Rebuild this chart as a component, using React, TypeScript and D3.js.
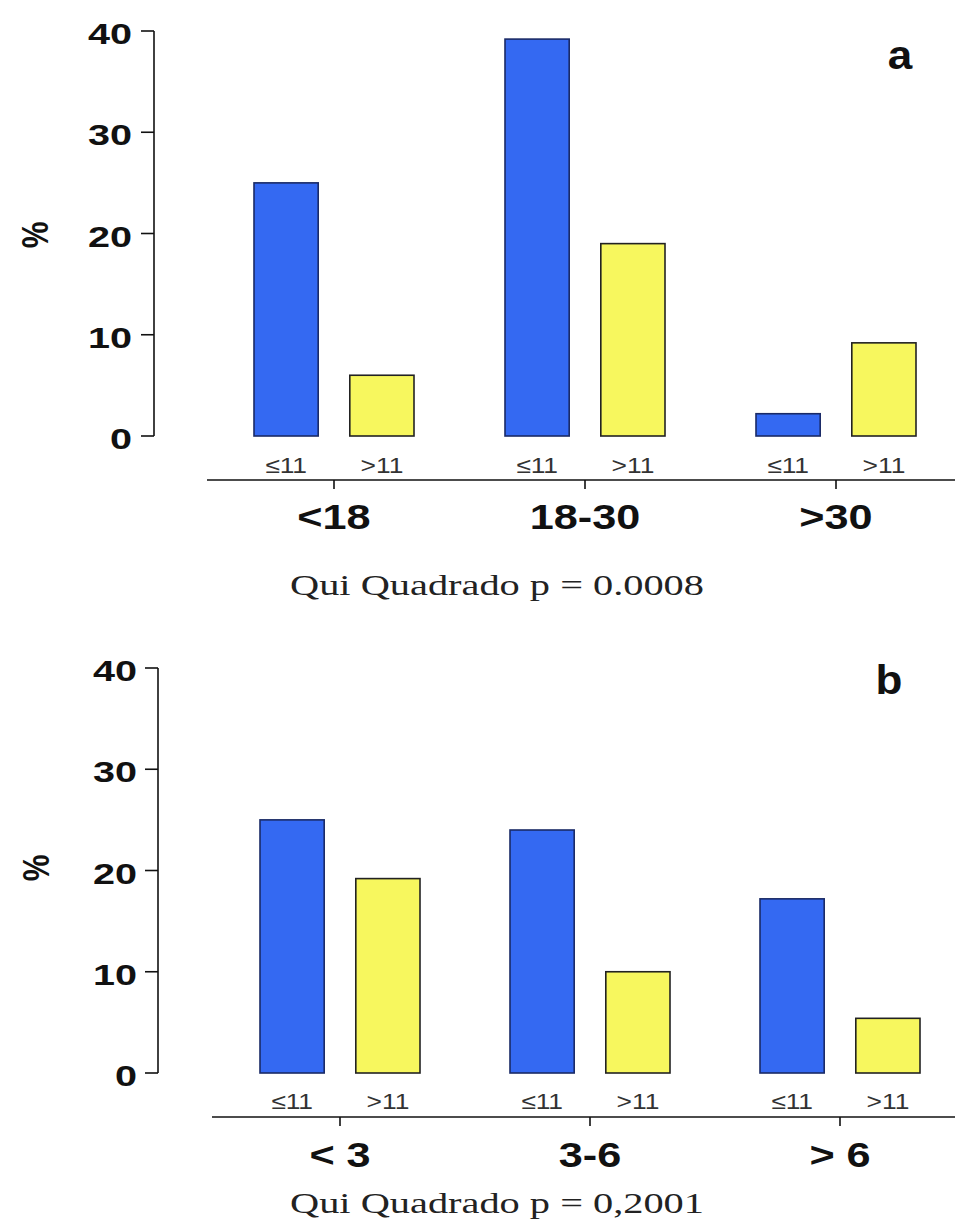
import React from "react";
import * as d3 from "d3";

// ---- data ----
const groupsA = ["<18", "18-30", ">30"];
const groupsB = ["< 3", "3-6", "> 6"];
const subgroups = ["≤11", ">11"];
const lowA = [25, 39.2, 2.2];
const highA = [6, 19, 9.2];
const lowB = [25, 24, 17.2];
const highB = [19.2, 10, 5.4];
const yTicks = [0, 10, 20, 30, 40];
const pTextA = "Qui Quadrado p = 0.0008";
const pTextB = "Qui Quadrado p = 0,2001";
const yLabel = "%";

const BLUE = "#3469f2";
const YELLOW = "#f7f75e";
const SANS = "Arial, Liberation Sans, sans-serif";
const SERIF = "Times New Roman, Liberation Serif, serif";

type Layout = {
  yZero: number; yTop: number; axisX: number; c0: number; c1: number;
  xAxisY: number; xAxisX0: number; subLabelY: number; groupLabelY: number;
  pY: number; letterX: number; letterY: number; tickLabelX: number;
  pctX: number; pctY: number;
};

function SText(props: any) {
  const { x, y, sx = 1.3, children, ...rest } = props;
  return (
    <text transform={`translate(${x},${y}) scale(${sx},1)`} {...rest}>
      {children}
    </text>
  );
}

function Panel({ groups, low, high, letter, pText, L }: any) {
  const y = d3.scaleLinear().domain([0, 40]).range([L.yZero, L.yTop]);
  const x = d3.scalePoint<string>().domain(groups).range([L.c0, L.c1]);
  const sub = d3.scaleBand<string>().domain(subgroups).range([-80, 80]).paddingInner(0.33).paddingOuter(0);
  const series = [low, high];
  const colors = [BLUE, YELLOW];
  const strokes = ["#1a2a66", "#222"];
  return (
    <g>
      {/* y axis */}
      <line x1={L.axisX} x2={L.axisX} y1={y(40)} y2={y(0)} stroke="#111" strokeWidth={1.6} />
      {yTicks.map((t) => (
        <g key={t}>
          <line x1={L.axisX - 13} x2={L.axisX} y1={y(t)} y2={y(t)} stroke="#111" strokeWidth={1.6} />
          <SText x={L.tickLabelX} y={y(t) + 13} sx={1.32} textAnchor="end"
            style={{ fontFamily: SANS }} fontWeight="bold" fontSize={30} fill="#111">{t}</SText>
        </g>
      ))}
      <text transform={`translate(${L.pctX},${L.pctY}) scale(1.25,1) rotate(-90)`} textAnchor="middle"
        y={10} style={{ fontFamily: SANS }} fontWeight="bold" fontSize={30} fill="#111">{yLabel}</text>
      {/* bars */}
      {groups.map((g: string, i: number) =>
        subgroups.map((s, j) => {
          const v = series[j][i];
          const x0 = (x(g) as number) + (sub(s) as number);
          return (
            <rect key={g + s} x={x0} width={sub.bandwidth()} y={y(v)} height={y(0) - y(v)}
              fill={colors[j]} stroke={strokes[j]} strokeWidth={1.6} />
          );
        })
      )}
      {/* sub labels */}
      {groups.map((g: string) =>
        subgroups.map((s) => (
          <SText key={"l" + g + s} x={(x(g) as number) + (sub(s) as number) + sub.bandwidth() / 2}
            y={L.subLabelY} sx={1.2} textAnchor="middle" style={{ fontFamily: SANS }} fontSize={22} fill="#333">{s}</SText>
        ))
      )}
      {/* x axis */}
      <line x1={L.xAxisX0} x2={955} y1={L.xAxisY} y2={L.xAxisY} stroke="#111" strokeWidth={1.6} />
      {groups.map((g: string) => (
        <g key={"t" + g}>
          <line x1={x(g)} x2={x(g)} y1={L.xAxisY} y2={L.xAxisY + 9} stroke="#111" strokeWidth={1.6} />
          <SText x={x(g)} y={L.groupLabelY} sx={1.2} textAnchor="middle" style={{ fontFamily: SANS }}
            fontWeight="bold" fontSize={36} fill="#111">{g}</SText>
        </g>
      ))}
      <SText x={L.letterX} y={L.letterY} sx={1.1} textAnchor="middle"
        style={{ fontFamily: SANS }} fontWeight="bold" fontSize={40} fill="#111">{letter}</SText>
      <text x={497} y={L.pY} textAnchor="middle" style={{ fontFamily: SERIF }} fontSize={30} fill="#222"
        textLength={414} lengthAdjust="spacingAndGlyphs">{pText}</text>
    </g>
  );
}

const layoutA: Layout = {
  yZero: 436, yTop: 31, axisX: 154, c0: 334, c1: 836, xAxisY: 480, xAxisX0: 207,
  subLabelY: 473, groupLabelY: 529, pY: 595, letterX: 900, letterY: 69, tickLabelX: 132,
  pctX: 35, pctY: 235,
};
const layoutB: Layout = {
  yZero: 1073, yTop: 668, axisX: 158, c0: 340, c1: 840, xAxisY: 1117, xAxisX0: 212,
  subLabelY: 1109, groupLabelY: 1167, pY: 1213, letterX: 889, letterY: 694, tickLabelX: 137,
  pctX: 36, pctY: 868,
};

export default function App() {
  return (
    <svg width={955} height={1223} style={{ position: "absolute", left: 0, top: 0, background: "#fff" }}>
      <rect width={955} height={1223} fill="#fff" />
      <Panel groups={groupsA} low={lowA} high={highA} letter="a" pText={pTextA} L={layoutA} />
      <Panel groups={groupsB} low={lowB} high={highB} letter="b" pText={pTextB} L={layoutB} />
    </svg>
  );
}
